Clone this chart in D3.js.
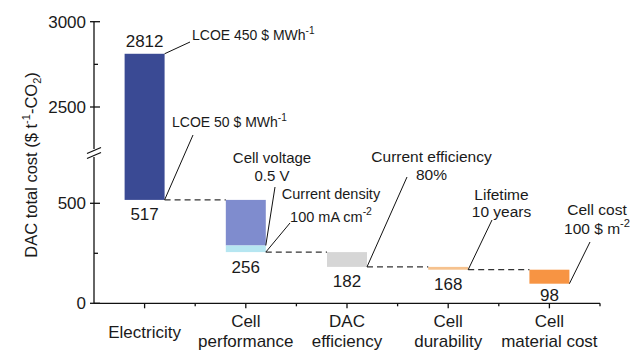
<!DOCTYPE html>
<html>
<head>
<meta charset="utf-8">
<script src="https://cdn.jsdelivr.net/npm/d3@7/dist/d3.min.js"></script>
<style>
  html, body { margin: 0; padding: 0; background: #fff; }
  svg { display: block; font-family: "Liberation Sans", Arial, sans-serif; }
  text { fill: #1a1a1a; }
</style>
</head>
<body>
<svg id="chart" width="631" height="352"></svg>
<script>
// Cost breakdown categories (x axis)
const categories = ["Electricity", "Cell performance", "DAC efficiency", "Cell durability", "Cell material cost"];
const categoryLines = [["Electricity"], ["Cell", "performance"], ["DAC", "efficiency"], ["Cell", "durability"], ["Cell", "material cost"]];

// Waterfall steps: each reduction goes from one total to the next
const stepCategory = ["Electricity", "Cell performance", "Cell performance", "DAC efficiency", "Cell durability", "Cell material cost"];
const stepFrom = [2812, 517, 289, 256, 182, 168];
const stepTo   = [517, 289, 256, 182, 168, 98];
const stepPalette = ["#3a4a94", "#7f8cce", "#b6e6f1", "#d6d6d6", "#f6c28e", "#f79443"];

// Running totals printed next to the bars
const totalCategory = ["Electricity", "Electricity", "Cell performance", "DAC efficiency", "Cell durability", "Cell material cost"];
const totalValue = [2812, 517, 256, 182, 168, 98];

// Broken y axis: lower and upper segments
const lowerTicks = [0, 250, 500];
const upperTicks = [2500, 2750, 3000];
const labeledTicks = [0, 500, 2500, 3000];

const svg = d3.select("#chart");

const x = d3.scaleBand().domain(categories).range([94, 600]).paddingInner(0.605).paddingOuter(0.3025);
const yLow = d3.scaleLinear().domain([0, 500]).range([303.3, 203.3]);
const yHigh = d3.scaleLinear().domain([2500, 3000]).range([107, 21.7]);
const breakValue = 1500;
const y = v => v >= breakValue ? yHigh(v) : yLow(v);

// ---- y axis (two pieces with break marks) ----
const axisX = 94;
const yAxisG = svg.append("g");
yAxisG.append("line").attr("x1", axisX).attr("x2", axisX).attr("y1", yHigh(3000)).attr("y2", 149)
  .attr("stroke", "#111").attr("stroke-width", 1.3);
yAxisG.append("line").attr("x1", axisX).attr("x2", axisX).attr("y1", 157).attr("y2", yLow(0))
  .attr("stroke", "#111").attr("stroke-width", 1.3);
[150.5, 155.5].forEach(cy => {
  yAxisG.append("line").attr("x1", axisX - 7).attr("x2", axisX + 7).attr("y1", cy + 3).attr("y2", cy - 3)
    .attr("stroke", "#111").attr("stroke-width", 1.3);
});
const allTicks = lowerTicks.map(v => ({v, y: yLow(v)})).concat(upperTicks.map(v => ({v, y: yHigh(v)})));
allTicks.forEach(t => {
  const major = labeledTicks.includes(t.v);
  yAxisG.append("line").attr("x1", major ? axisX - 4 : axisX).attr("x2", axisX + (major ? 6 : 4))
    .attr("y1", t.y).attr("y2", t.y).attr("stroke", "#111").attr("stroke-width", 1.3);
  if (major) {
    yAxisG.append("text").attr("x", axisX - 8).attr("y", t.y).attr("dy", "0.36em")
      .attr("text-anchor", "end").attr("font-size", 17).text(t.v);
  }
});

// y axis title
const title = svg.append("text")
  .attr("transform", "translate(37,165) rotate(-90)")
  .attr("text-anchor", "middle").attr("font-size", 16.5);
title.append("tspan").text("DAC total cost ($ t");
title.append("tspan").attr("font-size", 11).attr("dy", -7).text("-1");
title.append("tspan").attr("dy", 7).text("-CO");
title.append("tspan").attr("font-size", 11).attr("dy", 4).text("2");
title.append("tspan").attr("dy", -4).text(")");

// ---- x axis ----
const xAxisG = svg.append("g").attr("transform", `translate(0,${yLow(0)})`)
  .call(d3.axisBottom(x).tickSize(5).tickFormat(""));
xAxisG.select(".domain").attr("stroke", "#111").attr("stroke-width", 1.3).attr("d", `M${axisX},0H600`);
xAxisG.selectAll(".tick line").attr("stroke", "#111").attr("stroke-width", 1.3);
// minor ticks at band boundaries
d3.range(1, categories.length + 1).forEach(i => {
  const bx = x.range()[0] + i * x.step();
  xAxisG.append("line").attr("x1", bx).attr("x2", bx).attr("y1", 0).attr("y2", 3)
    .attr("stroke", "#111").attr("stroke-width", 1.3);
});
// category labels
categories.forEach((c, i) => {
  const lines = categoryLines[i];
  const cx = x(c) + x.bandwidth() / 2;
  const t = svg.append("text").attr("text-anchor", "middle").attr("font-size", 17);
  const first = lines.length === 1 ? 337.5 : 327;
  lines.forEach((ln, k) => t.append("tspan").attr("x", cx).attr("y", first + k * 20).text(ln));
});

// ---- bars ----
const bars = svg.append("g");
stepCategory.forEach((c, i) => {
  const top = y(Math.max(stepFrom[i], stepTo[i]));
  const bot = y(Math.min(stepFrom[i], stepTo[i]));
  bars.append("rect").attr("x", x(c)).attr("width", x.bandwidth())
    .attr("y", top).attr("height", bot - top).attr("fill", stepPalette[i]);
});

// dashed connectors between categories at each running total
for (let i = 0; i < stepCategory.length - 1; i++) {
  const a = stepCategory[i], b = stepCategory[i + 1];
  if (a === b) continue;
  svg.append("line")
    .attr("x1", x(a) + x.bandwidth()).attr("x2", x(b))
    .attr("y1", y(stepTo[i])).attr("y2", y(stepTo[i]))
    .attr("stroke", "#333").attr("stroke-width", 1.2).attr("stroke-dasharray", "6,4");
}

// total labels
totalValue.forEach((v, i) => {
  const cx = x(totalCategory[i]) + x.bandwidth() / 2;
  const above = i === 0;
  const yy = above ? y(v) - 7 : Math.min(y(v) + 20.5, yLow(0) - 2.5);
  svg.append("text").attr("x", cx).attr("y", yy).attr("text-anchor", "middle")
    .attr("font-size", 17).text(v);
});

// ---- annotations with leader lines to the bar corners ----
const annotations = [
  { step: 0, end: "from", anchor: "start", x: 192, lines: [[["LCOE 450 $ MWh"], ["-1", "sup"]]], base: [40], size: 14, lx: 190, ly: 42 },
  { step: 0, end: "to", anchor: "start", x: 172, lines: [[["LCOE 50 $ MWh"], ["-1", "sup"]]], base: [127], size: 14, lx: 193, ly: 135 },
  { step: 1, end: "to", anchor: "middle", x: 272, lines: [[["Cell voltage"]], [["0.5 V"]]], base: [163, 180.5], size: 15, lx: 275, ly: 187 },
  { step: 2, end: "to", anchor: "middle", x: 331, lines: [[["Current density"]], [["100 mA cm"], ["-2", "sup"]]], base: [198.5, 221.5], size: 14.5, lx: 290, ly: 223 },
  { step: 3, end: "to", anchor: "middle", x: 431.5, lines: [[["Current efficiency"]], [["80%"]]], base: [162, 180], size: 15.5, lx: 407, ly: 177 },
  { step: 4, end: "to", anchor: "middle", x: 501.5, lines: [[["Lifetime"]], [["10 years"]]], base: [200, 216.5], size: 15.5, lx: 492, ly: 220 },
  { step: 5, end: "to", anchor: "middle", x: 597, lines: [[["Cell cost"]], [["100 $ m"], ["-2", "sup"]]], base: [215, 234], size: 15.5, lx: 590, ly: 242 }
];
annotations.forEach(a => {
  const c = stepCategory[a.step];
  const px = x(c) + x.bandwidth();
  const py = y(a.end === "from" ? stepFrom[a.step] : stepTo[a.step]);
  svg.append("line").attr("x1", a.lx).attr("y1", a.ly).attr("x2", px).attr("y2", py)
    .attr("stroke", "#111").attr("stroke-width", 1);
  a.lines.forEach((parts, k) => {
    const t = svg.append("text").attr("x", a.x).attr("y", a.base[k])
      .attr("text-anchor", a.anchor).attr("font-size", a.size);
    parts.forEach(p => {
      if (p[1] === "sup") {
        t.append("tspan").attr("font-size", a.size * 0.72).attr("dy", -a.size * 0.45).text(p[0]);
      } else {
        t.append("tspan").text(p[0]);
      }
    });
  });
});
</script>
</body>
</html>
